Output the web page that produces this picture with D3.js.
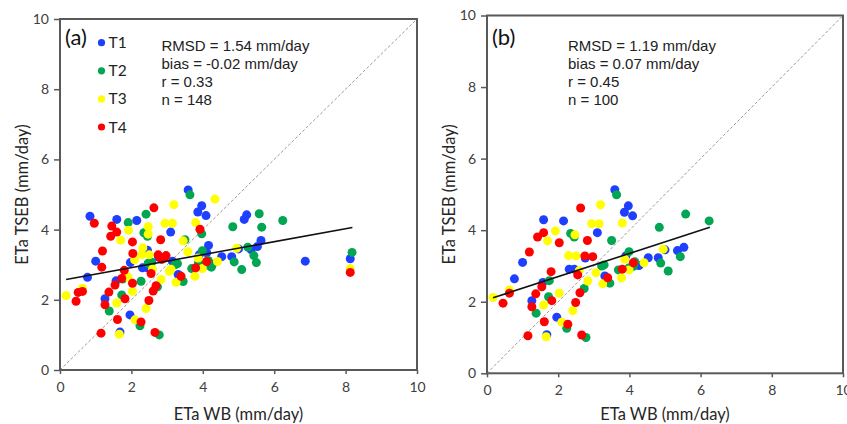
<!DOCTYPE html>
<html><head><meta charset="utf-8">
<script src="https://cdn.jsdelivr.net/npm/d3@7"></script>
<style>body{margin:0;background:#fff}</style>
</head><body><svg id="c" width="847" height="424"></svg>
<script>
// ---------- data ----------
const categories = ["T1", "T2", "T3", "T4"];
const ticks = [0, 2, 4, 6, 8, 10];

// points shown in both panels (a) and (b)  [ETa WB, ETa TSEB]
const t1Both = [[3.59,5.13],[3.97,4.68],[3.86,4.50],[4.09,4.40],[1.59,4.29],[2.15,4.26],[3.10,3.93],[1.00,3.10],[0.77,2.64],[1.26,2.03],[1.96,1.57],[1.68,1.08],[2.31,2.91],[2.45,2.91],[2.76,3.22],[1.57,2.54],[3.31,2.72],[4.53,3.23],[4.81,3.23],[5.00,3.45],[5.35,3.43],[5.53,3.52],[4.27,3.01],[3.90,3.28]];
const t2Both = [[3.64,4.99],[5.58,4.45],[6.24,4.26],[4.84,4.08],[3.50,3.71],[3.99,3.40],[5.43,3.26],[4.88,3.08],[5.09,2.86],[4.12,3.00],[3.98,2.94],[3.69,2.89],[3.45,2.52],[3.29,3.03],[3.22,3.00],[2.35,3.91],[2.45,3.81],[1.75,2.59],[2.73,2.37],[1.73,2.14],[1.38,1.68],[2.24,1.26],[2.78,1.00],[4.15,3.12],[4.08,2.98]];
const t3Both = [[0.17,2.12],[0.63,2.33],[1.70,3.70],[1.92,3.98],[2.47,3.87],[3.19,4.71],[2.94,4.18],[3.15,4.18],[3.80,4.20],[2.29,3.29],[2.50,3.28],[2.59,2.87],[2.03,2.24],[2.83,2.58],[3.06,2.81],[3.25,2.50],[2.41,1.75],[1.59,1.91],[2.10,1.43],[1.66,1.02],[4.95,3.47],[4.41,3.09],[3.87,3.19],[3.99,2.89],[3.78,2.67]];
const t4Both = [[0.45,1.96],[0.63,2.24],[1.19,3.39],[1.42,3.81],[1.59,3.93],[2.03,3.65],[2.63,4.62],[2.82,3.71],[2.75,3.28],[2.97,3.26],[1.80,2.84],[2.55,2.75],[1.54,2.42],[1.37,2.22],[2.61,2.25],[3.39,2.67],[2.49,1.98],[1.82,2.03],[1.26,1.86],[1.61,1.44],[2.27,1.37],[1.15,1.05],[2.66,1.07],[4.11,3.09],[3.80,2.91]];

// additional points shown only in panel (a)
const t1OnlyA = [[0.84,4.38],[4.16,3.55],[5.16,4.29],[5.23,4.42],[5.63,3.69],[6.87,3.10],[8.13,3.17],[2.45,3.41],[3.15,3.10],[4.11,3.34],[1.97,3.06]];
const t2OnlyA = [[1.91,4.20],[2.41,4.44],[5.26,3.50],[5.65,4.07],[5.50,3.06],[8.18,3.35],[4.24,2.93],[2.57,3.07],[2.47,3.04],[2.27,2.53],[3.88,3.06],[3.97,3.88]];
const t3OnlyA = [[4.34,4.87],[2.47,4.08],[3.45,3.68],[2.32,3.48],[3.58,3.37],[2.09,3.14],[1.90,2.65],[8.13,2.89],[3.11,2.87]];
const t4OnlyA = [[0.96,4.18],[1.45,4.10],[3.92,4.01],[2.04,3.32],[2.85,3.15],[2.92,3.19],[2.80,3.21],[1.17,2.93],[1.73,2.61],[2.03,2.47],[2.69,2.40],[0.51,2.21],[8.13,2.78]];

// fitted regression lines (end points)
const fitA = [[0.17,2.58],[8.19,4.06]];
const fitB = [[0.17,2.11],[6.26,4.08]];

// statistics text
const statsA = ["RMSD = 1.54 mm/day", "bias = -0.02 mm/day", "r = 0.33", "n = 148"];
const statsB = ["RMSD = 1.19 mm/day", "bias = 0.07 mm/day", "r = 0.45", "n = 100"];

// ---------- drawing ----------
const colors = {T1: "#1f3fff", T2: "#00a651", T3: "#ffff00", T4: "#ff0000"};
const seriesA = [
  {name: "T1", pts: t1Both.concat(t1OnlyA)},
  {name: "T2", pts: t2Both.concat(t2OnlyA)},
  {name: "T3", pts: t3Both.concat(t3OnlyA)},
  {name: "T4", pts: t4Both.concat(t4OnlyA)}
];
const seriesB = [
  {name: "T1", pts: t1Both},
  {name: "T2", pts: t2Both},
  {name: "T3", pts: t3Both},
  {name: "T4", pts: t4Both}
];

const svg = d3.select("#c");
const FONT = "Lato, 'Open Sans', sans-serif";
const AXC = "#595959";

function panel(cfg) {
  const x = d3.scaleLinear().domain([0, 10]).range([cfg.left, cfg.right]);
  const y = d3.scaleLinear().domain([0, 10]).range([cfg.bottom, cfg.top]);
  const g = svg.append("g");

  // axes
  const xa = g.append("g").attr("transform", `translate(0,${cfg.bottom})`)
    .call(d3.axisBottom(x).tickValues(ticks).tickSize(4).tickPadding(8));
  const ya = g.append("g").attr("transform", `translate(${cfg.left},0)`)
    .call(d3.axisLeft(y).tickValues(ticks).tickSize(6).tickPadding(5));
  [xa, ya].forEach(a => {
    a.select(".domain").remove();
    a.selectAll(".tick line").attr("stroke", AXC).attr("stroke-width", 1.5);
    a.selectAll(".tick text").attr("fill", "#404040").style("font-family", FONT).style("font-size", "14px");
  });

  // 1:1 line
  g.append("line")
    .attr("x1", x(0)).attr("y1", y(0)).attr("x2", x(10)).attr("y2", y(10))
    .attr("stroke", "#9a9a9a").attr("stroke-width", 1).attr("stroke-dasharray", "3,2");

  // points
  cfg.series.forEach(s => {
    g.append("g").selectAll("circle").data(s.pts).join("circle")
      .attr("cx", d => x(d[0])).attr("cy", d => y(d[1])).attr("r", 4.5)
      .attr("fill", colors[s.name]);
  });

  // regression line
  g.append("path").datum(cfg.fit)
    .attr("d", d3.line().x(d => x(d[0])).y(d => y(d[1])))
    .attr("stroke", "#111").attr("stroke-width", 1.6).attr("fill", "none");

  // frame
  g.append("rect").attr("x", cfg.left).attr("y", cfg.top)
    .attr("width", cfg.right - cfg.left).attr("height", cfg.bottom - cfg.top)
    .attr("fill", "none").attr("stroke", AXC).attr("stroke-width", 2);

  // axis titles
  g.append("text").attr("x", (cfg.left + cfg.right) / 2).attr("y", 420)
    .attr("text-anchor", "middle").style("font-family", FONT).style("font-size", "16.5px")
    .attr("fill", "#262626").text("ETa WB (mm/day)");
  g.append("text").attr("transform", `translate(${cfg.left - 32},${(cfg.top + cfg.bottom) / 2}) rotate(-90)`)
    .attr("text-anchor", "middle").style("font-family", FONT).style("font-size", "16.5px")
    .attr("fill", "#262626").text("ETa TSEB (mm/day)");

  // panel label
  g.append("text").attr("x", cfg.left + 5).attr("y", 45)
    .style("font-family", FONT).style("font-size", "22px").attr("fill", "#111").text(cfg.label);

  // stats
  g.append("g").selectAll("text").data(cfg.stats).join("text")
    .attr("x", cfg.statsX).attr("y", (d, i) => 51 + i * 18)
    .style("font-family", "'Liberation Sans', Arial, sans-serif").style("font-size", "15px")
    .attr("fill", "#222").text(d => d);

  return {x, y, g};
}

panel({left: 60, right: 417, top: 19, bottom: 370, series: seriesA, fit: fitA, stats: statsA, statsX: 161.5, label: "(a)"});
panel({left: 487, right: 843, top: 15.5, bottom: 373.3, series: seriesB, fit: fitB, stats: statsB, statsX: 568, label: "(b)"});

// legend in panel (a)
const leg = svg.append("g").selectAll("g").data(categories).join("g")
  .attr("transform", (d, i) => `translate(101.5,${42.7 + i * 28.1})`);
leg.append("circle").attr("r", 3.6).attr("fill", d => colors[d]);
leg.append("text").attr("x", 7).attr("y", 5.5).style("font-family", FONT).style("font-size", "15.5px")
  .attr("fill", "#222").text(d => d);
</script></body></html>
